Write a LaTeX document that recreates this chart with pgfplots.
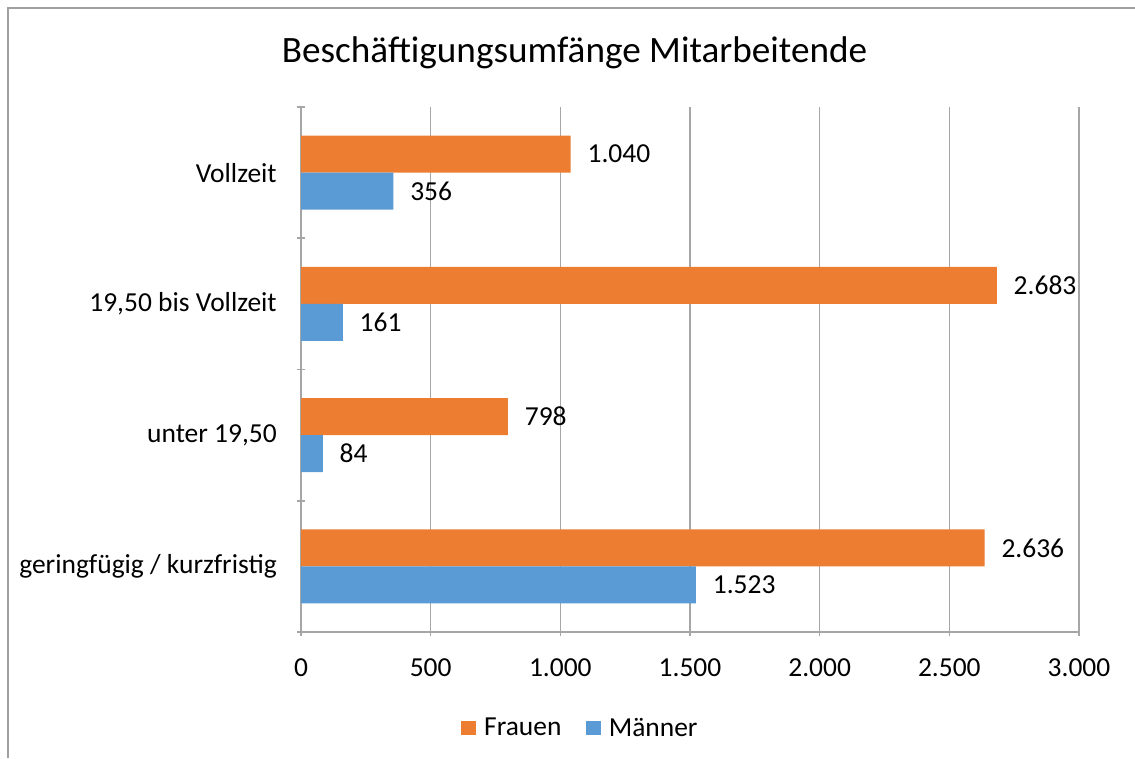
\documentclass[border=0pt]{standalone}
\usepackage{pgfplots}
\pgfplotsset{compat=1.18}
\usepackage{fontspec}
\setmainfont{Carlito}
\definecolor{frauen}{HTML}{ED7D31}
\definecolor{maenner}{HTML}{5B9BD5}
\definecolor{gridgray}{HTML}{A6A6A6}
\definecolor{framegray}{HTML}{A0A0A0}
\begin{document}
\begin{tikzpicture}[x=0.75pt,y=0.75pt]
\path[use as bounding box] (0,0) rectangle (1135,758);
\draw[framegray, line width=1.2pt] (8,0) -- (8,750) -- (1135,750);
\begin{axis}[
  at={(301*0.75pt,126*0.75pt)}, anchor=south west,
  scale only axis, width=583.5pt, height=393.75pt,
  xbar, bar width=27.75pt,
  xmin=0, xmax=3000, ymin=-0.5, ymax=3.5,
  xtick={0,500,...,3000}, scaled x ticks=false,
  ytick={0,1,2,3},
  yticklabels={geringfügig / kurzfristig, unter 19{,}50, 19{,}50 bis Vollzeit, Vollzeit},
  minor ytick={-0.5,0.5,1.5,2.5,3.5},
  major y tick style={draw=none},
  tick align=outside, major tick length=6pt, minor tick length=6pt,
  axis x line=bottom, axis y line=left,
  axis line style={-, gridgray, line width=1.2pt},
  every tick/.style={gridgray, line width=1.2pt},
  minor tick style={gridgray, line width=1.2pt},
  xmajorgrids, grid style={gridgray, line width=1.2pt},
  /pgf/number format/.cd, 1000 sep={.}, assume math mode=true, /pgfplots/.cd,
  tick label style={font=\fontsize{20.6}{24}\selectfont, text=black},
  yticklabel style={anchor=east, inner sep=0pt, xshift=-15pt},
  xticklabel style={anchor=center, inner sep=0pt, yshift=-24pt},
  nodes near coords,
  every node near coord/.append style={font=\fontsize{20.6}{24}\selectfont, anchor=west, inner sep=0pt, xshift=12.5pt, text=black},
  title={Beschäftigungsumfänge Mitarbeitende},
  title style={font=\fontsize{27.9}{32}\selectfont, at={(0.3515,1.0686)}, anchor=base, inner sep=0pt},
  legend style={at={(0.3576,-0.1829)}, anchor=center, draw=none, legend columns=2,
    font=\fontsize{20.6}{24}\selectfont, nodes={inner sep=0pt},
    /tikz/every odd column/.append style={column sep=6.2pt},
    /tikz/every even column/.append style={column sep=18pt}},
  legend image code/.code={\fill[#1, draw=none] (0pt,-5.6pt) rectangle (11.25pt,5.6pt);},
]
\addplot[fill=frauen, draw=none, bar shift=13.875pt] coordinates {(2636,0) (798,1) (2683,2) (1040,3)};
\addlegendentry{Frauen}
\addplot[fill=maenner, draw=none, bar shift=-13.875pt] coordinates {(1523,0) (84,1) (161,2) (356,3)};
\addlegendentry{Männer}
\end{axis}
\end{tikzpicture}
\end{document}
